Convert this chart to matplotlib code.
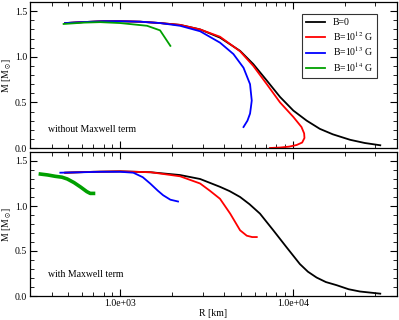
import numpy as np
import matplotlib
matplotlib.use("Agg")
import matplotlib.pyplot as plt
from matplotlib.ticker import FixedLocator, LogLocator, MultipleLocator, NullFormatter

plt.rcParams["font.family"] = ["Liberation Serif", "DejaVu Serif"]
plt.rcParams["mathtext.fontset"] = "stix"

# ---- top panel: without Maxwell term ----
r_b0 = [480, 600, 800, 1000, 1300, 1700, 2220, 2900, 3780, 4940, 5890, 7050, 8410,
        10050, 12000, 14300, 17000, 21400, 26000, 32000]
m_b0 = [1.37, 1.38, 1.39, 1.39, 1.385, 1.37, 1.35, 1.30, 1.21, 1.065, 0.92, 0.74, 0.56,
        0.41, 0.30, 0.21, 0.15, 0.09, 0.055, 0.03]

r_b12 = [480, 600, 800, 1000, 1300, 1700, 2220, 2900, 3780, 4940, 5890, 7050, 8410,
         10050, 11200, 11600, 11650, 11300, 10500, 9500, 8400, 7360]
m_b12 = [1.37, 1.38, 1.39, 1.39, 1.385, 1.37, 1.35, 1.30, 1.22, 1.06, 0.90, 0.70, 0.50,
         0.34, 0.23, 0.16, 0.11, 0.06, 0.033, 0.015, 0.005, 0.0]

r_b13 = [480, 600, 800, 1000, 1300, 1700, 2220, 2900, 3780, 4520, 5170, 5640, 5770,
         5700, 5640, 5450, 5170]
m_b13 = [1.37, 1.38, 1.39, 1.39, 1.385, 1.37, 1.34, 1.28, 1.155, 1.03, 0.88, 0.70, 0.52,
         0.44, 0.377, 0.30, 0.23]

r_b14 = [470, 620, 765, 1000, 1430, 1700, 1950]
m_b14 = [1.36, 1.375, 1.38, 1.37, 1.34, 1.29, 1.12]

# ---- bottom panel: with Maxwell term ----
r_b0_mx = [480, 700, 1000, 1500, 2220, 2900, 3780, 4300, 4940, 5600, 6440, 7690, 9190,
           10960, 12200, 13700, 15500, 17900, 21000, 24400, 32000]
m_b0_mx = [1.37, 1.38, 1.385, 1.375, 1.344, 1.30, 1.213, 1.165, 1.10, 1.02, 0.915, 0.73,
           0.54, 0.355, 0.27, 0.205, 0.155, 0.12, 0.075, 0.05, 0.026]

r_b12_mx = [480, 700, 1000, 1500, 2220, 2900, 3300, 3780, 4330, 4940, 5400, 5800, 6170]
m_b12_mx = [1.37, 1.38, 1.385, 1.375, 1.33, 1.25, 1.17, 1.08, 0.915, 0.73, 0.67, 0.655,
            0.655]

r_b13_mx = [450, 600, 765, 1000, 1190, 1350, 1490, 1650, 1770, 1950, 2160]
m_b13_mx = [1.37, 1.375, 1.38, 1.38, 1.37, 1.32, 1.25, 1.17, 1.12, 1.07, 1.05]

r_b14_mx = [345, 380, 420, 460, 494, 540, 590, 640, 670, 700]
m_b14_mx = [1.355, 1.345, 1.33, 1.32, 1.30, 1.26, 1.21, 1.16, 1.14, 1.14]

labels = ["B=0", r"B=10$^{12}$ G", r"B=10$^{13}$ G", r"B=10$^{14}$ G"]
colors = ["black", "#ff0000", "#0000ff", "#00a000"]

fig = plt.figure(figsize=(3.99, 3.2), dpi=100)
ax1 = fig.add_axes([0.075, 0.5375, 0.92, 0.456])
ax2 = fig.add_axes([0.075, 0.075, 0.92, 0.45])

top = [(r_b0, m_b0), (r_b12, m_b12), (r_b13, m_b13), (r_b14, m_b14)]
bot = [(r_b0_mx, m_b0_mx), (r_b12_mx, m_b12_mx), (r_b13_mx, m_b13_mx), (r_b14_mx, m_b14_mx)]

for (r, m), c, lab in zip(top, colors, labels):
    ax1.plot(r, m, color=c, lw=1.3, label=lab, solid_joinstyle="round")
for i, ((r, m), c) in enumerate(zip(bot, colors)):
    ax2.plot(r, m, color=c, lw=2.6 if i == 3 else 1.3, solid_joinstyle="round")

for ax in (ax1, ax2):
    ax.set_xscale("log")
    ax.set_xlim(300, 40000)
    ax.set_ylim(0, 1.6)
    ax.yaxis.set_major_locator(FixedLocator([0.0, 0.5, 1.0, 1.5]))
    ax.yaxis.set_minor_locator(MultipleLocator(0.1))
    ax.xaxis.set_major_locator(FixedLocator([1e3, 1e4]))
    ax.xaxis.set_minor_locator(LogLocator(base=10, subs=np.arange(2, 10)))
    ax.xaxis.set_minor_formatter(NullFormatter())
    ax.tick_params(which="both", direction="in", top=True, right=True, labelsize=7, pad=2)
    ax.tick_params(which="major", length=5, width=0.8)
    ax.tick_params(which="minor", length=3, width=0.6)
    ax.set_yticklabels(["0.0", "0.5", "1.0", "1.5"])
    ax.set_ylabel(r"M [M$_\odot$]", fontsize=7, labelpad=1)
    for s in ax.spines.values():
        s.set_linewidth(0.9)

ax1.set_xticklabels([])
ax2.set_xticklabels(["1.0e+03", "1.0e+04"])
ax2.set_xlabel("R [km]", fontsize=7, labelpad=1)

ax1.text(0.05, 0.11, "without Maxwell term", transform=ax1.transAxes, fontsize=7)
ax2.text(0.05, 0.13, "with Maxwell term", transform=ax2.transAxes, fontsize=7)

leg = ax1.legend(loc="upper right", fontsize=7, frameon=True, fancybox=False,
                 edgecolor="black", handlelength=2.0, borderpad=0.4, labelspacing=0.2,
                 bbox_to_anchor=(0.96, 0.95))
leg.get_frame().set_linewidth(0.8)

fig.savefig("out.png", dpi=100)
